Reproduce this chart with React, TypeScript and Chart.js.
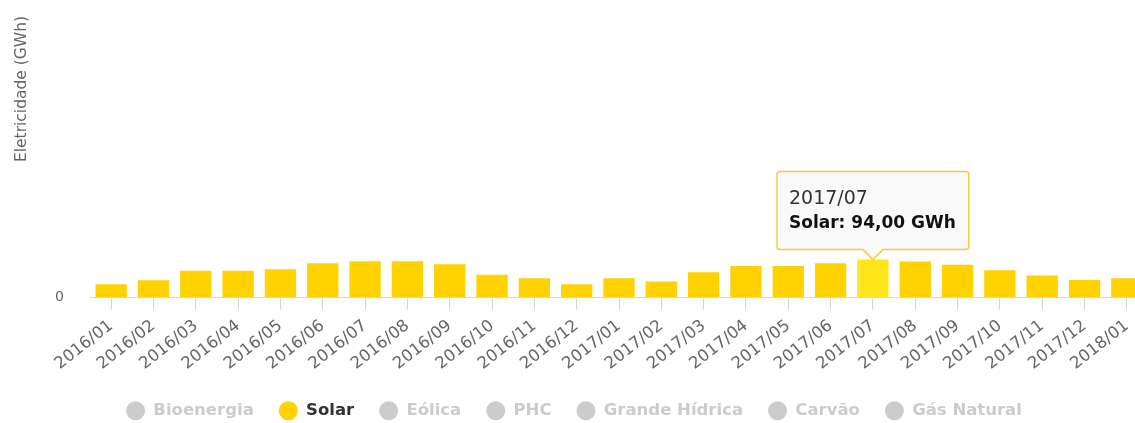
import React, { useEffect, useRef } from 'react';
import { Chart, registerables } from 'chart.js';

Chart.register(...registerables);

const categories = [
  '2016/01', '2016/02', '2016/03', '2016/04', '2016/05', '2016/06', '2016/07', '2016/08',
  '2016/09', '2016/10', '2016/11', '2016/12', '2017/01', '2017/02', '2017/03', '2017/04',
  '2017/05', '2017/06', '2017/07', '2017/08', '2017/09', '2017/10', '2017/11', '2017/12', '2018/01',
];
const solarValues = [32, 42, 66, 66, 70, 85, 90, 90, 82, 56, 47, 32, 47, 39, 62, 78, 78, 85, 94, 89, 81, 67, 54, 43, 47];
const legendSeries = ['Bioenergia', 'Solar', 'Eólica', 'PHC', 'Grande Hídrica', 'Carvão', 'Gás Natural'];
const activeSeries = 'Solar';
const highlightIndex = 18;
const yTitle = 'Eletricidade (GWh)';
const yTickValues = [0, 660];
const unit = 'GWh';

const FONT = '"DejaVu Sans", Verdana, sans-serif';
const BAR = '#ffd200';
const BAR_HI = '#ffe51c';
const GRAY = '#cccccc';

export default function App() {
  const ref = useRef<HTMLCanvasElement>(null);
  useEffect(() => {
    if (!ref.current) return;
    Chart.defaults.font.family = FONT;
    const yTitlePlugin = {
      id: 'yTitlePlugin',
      afterDraw(chart: any) {
        const ctx = chart.ctx;
        ctx.save();
        ctx.translate(22, 89);
        ctx.rotate(-Math.PI / 2);
        ctx.textAlign = 'center';
        ctx.textBaseline = 'middle';
        ctx.font = `15.5px ${FONT}`;
        ctx.fillStyle = '#666666';
        ctx.fillText(yTitle, 0, 0);
        ctx.restore();
      },
    };
    const chart = new Chart(ref.current, {
      type: 'bar',
      data: {
        labels: categories,
        datasets: [
          {
            label: activeSeries,
            data: solarValues,
            backgroundColor: solarValues.map((_, i) => (i === highlightIndex ? BAR_HI : BAR)),
            borderWidth: 0,
            categoryPercentage: 1,
            barPercentage: 0.74,
          },
        ],
      },
      options: {
        responsive: false,
        animation: false,
        events: [],
        layout: { padding: { left: 0, right: 12, top: 0, bottom: 0 } },
        scales: {
          x: {
            offset: true,
            afterFit: (scale: any) => {
              scale.height = 80.5;
            },
            grid: { display: true, drawOnChartArea: false, drawTicks: true, tickLength: 13, color: '#ccd6eb', offset: false },
            border: { display: true, color: '#ccd6eb', width: 1 },
            ticks: {
              color: '#666666',
              font: { size: 16.5 },
              minRotation: 38,
              maxRotation: 38,
              autoSkip: false,
              padding: 6,
            },
          },
          y: {
            min: yTickValues[0],
            max: yTickValues[1],
            afterBuildTicks: (scale: any) => {
              scale.ticks = yTickValues.map((v) => ({ value: v }));
            },
            afterFit: (scale: any) => {
              scale.width = 90;
            },
            grid: { display: false, drawTicks: false },
            border: { display: false },
            ticks: {
              color: '#666666',
              font: { size: 14 },
              padding: 26,
              callback: (v: any) => (Number(v) === 0 ? '0' : ''),
            },
          },
        },
        plugins: {
          legend: {
            position: 'bottom',
            onClick: () => {},
            labels: {
              usePointStyle: true,
              pointStyleWidth: 19,
              boxHeight: 13.4,
              padding: 25,
              font: { size: 16.5, weight: 'bold' },
              generateLabels: () =>
                legendSeries.map((name, i) => ({
                  text: name,
                  fillStyle: name === activeSeries ? BAR : GRAY,
                  strokeStyle: name === activeSeries ? BAR : GRAY,
                  lineWidth: 0,
                  fontColor: name === activeSeries ? '#333333' : GRAY,
                  hidden: false,
                  pointStyle: 'circle',
                  index: i,
                })),
            },
          },
          tooltip: {
            enabled: true,
            yAlign: 'bottom',
            xAlign: 'center',
            backgroundColor: 'rgba(248,248,248,0.92)',
            borderColor: '#f2cf3a',
            borderWidth: 1.5,
            cornerRadius: 3,
            caretSize: 10,
            caretPadding: 0,
            displayColors: false,
            titleColor: '#333333',
            bodyColor: '#111111',
            titleFont: { size: 19, weight: 'normal' },
            bodyFont: { size: 17, weight: 'bold' },
            titleMarginBottom: 3,
            padding: { top: 16, bottom: 16, left: 12, right: 13 },
            callbacks: {
              title: (items: any) => categories[items[0].dataIndex],
              label: (item: any) =>
                `${activeSeries}: ${Number(item.raw).toFixed(2).replace('.', ',')} ${unit}`,
            },
          },
        },
      },
      plugins: [yTitlePlugin],
    } as any);
    chart.tooltip!.setActiveElements([{ datasetIndex: 0, index: highlightIndex }], { x: 0, y: 0 });
    chart.update();
    return () => chart.destroy();
  }, []);
  return (
    <div style={{ position: 'absolute', left: 0, top: 0, width: 1135, height: 423, overflow: 'hidden', background: '#fff' }}>
      <canvas ref={ref} width={1160} height={429} />
    </div>
  );
}
